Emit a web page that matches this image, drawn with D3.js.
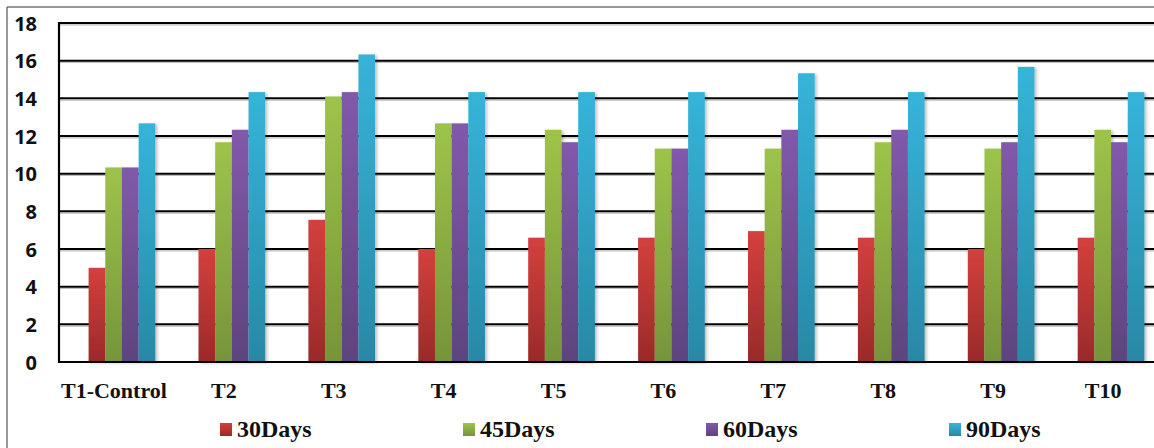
<!DOCTYPE html>
<html>
<head>
<meta charset="utf-8">
<script src="https://cdn.jsdelivr.net/npm/d3@7"></script>
<style>
  html, body { margin: 0; padding: 0; background: #fff; }
  svg { display: block; }
</style>
</head>
<body>
<svg id="chart" width="1154" height="448"></svg>
<script>
// Treatments on the category axis
const categories = ["T1-Control", "T2", "T3", "T4", "T5", "T6", "T7", "T8", "T9", "T10"];
// Sampling days (series)
const seriesNames = ["30Days", "45Days", "60Days", "90Days"];
// Values per series, one per treatment
const days30 = [5.0, 6.0, 7.55, 6.0, 6.6, 6.6, 6.95, 6.6, 6.0, 6.6];
const days45 = [10.33, 11.67, 14.1, 12.67, 12.33, 11.33, 11.33, 11.67, 11.33, 12.33];
const days60 = [10.33, 12.33, 14.33, 12.67, 11.67, 11.33, 12.33, 12.33, 11.67, 11.67];
const days90 = [12.67, 14.33, 16.33, 14.33, 14.33, 14.33, 15.33, 14.33, 15.67, 14.33];
const seriesValues = [days30, days45, days60, days90];
// Y axis ticks
const yTicks = [0, 2, 4, 6, 8, 10, 12, 14, 16, 18];

// Gradient stops (top, bottom) for each series
const seriesColors = [
  ["#d4403d", "#9a2a29"],
  ["#9dc44a", "#76943a"],
  ["#8259ab", "#5d447e"],
  ["#36b4da", "#2888a5"]
];

const svg = d3.select("#chart");
const W = 1154, H = 448;
const plot = { left: 59, right: 1158, top: 23, bottom: 362 };

const defs = svg.append("defs");
seriesColors.forEach((c, i) => {
  const g = defs.append("linearGradient")
    .attr("id", "grad" + i)
    .attr("x1", 0).attr("y1", 0).attr("x2", 0).attr("y2", 1);
  g.append("stop").attr("offset", "0%").attr("stop-color", c[0]);
  g.append("stop").attr("offset", "100%").attr("stop-color", c[1]);
});
const shadow = defs.append("filter").attr("id", "barShadow")
  .attr("x", "-20%").attr("y", "-5%").attr("width", "150%").attr("height", "115%");
shadow.append("feDropShadow")
  .attr("dx", 2).attr("dy", 1).attr("stdDeviation", 1.6)
  .attr("flood-color", "#000").attr("flood-opacity", 0.25);

// Outer frame (top and left edges visible)
svg.append("line").attr("x1", 7).attr("y1", 7).attr("x2", W).attr("y2", 7)
  .attr("stroke", "#333").attr("stroke-width", 1.2);
svg.append("line").attr("x1", 7).attr("y1", 7).attr("x2", 7).attr("y2", H)
  .attr("stroke", "#555").attr("stroke-width", 1.2);

const x = d3.scaleBand().domain(categories).range([plot.left, plot.right]).padding(0);
const y = d3.scaleLinear().domain([0, 18]).range([plot.bottom, plot.top]);

const groupWidth = x.bandwidth() * 0.607;
const groupShift = 8;
const xs = d3.scaleBand().domain(d3.range(seriesNames.length)).range([0, groupWidth]).padding(0);

// Gridlines with a soft shadow below
const grid = svg.append("g");
grid.selectAll("line.sh").data(yTicks.filter(t => t > 0)).join("line")
  .attr("class", "sh")
  .attr("x1", plot.left).attr("x2", W)
  .attr("y1", d => y(d) + 1.8).attr("y2", d => y(d) + 1.8)
  .attr("stroke", "#bdbdbd").attr("stroke-width", 1.2);
grid.selectAll("line.gl").data(yTicks.filter(t => t > 0)).join("line")
  .attr("class", "gl")
  .attr("x1", plot.left).attr("x2", W)
  .attr("y1", d => y(d)).attr("y2", d => y(d))
  .attr("stroke", "#000").attr("stroke-width", 2);

// Bars
const groups = svg.append("g").selectAll("g").data(categories).join("g")
  .attr("transform", d => `translate(${x(d) + (x.bandwidth() - groupWidth) / 2 + groupShift},0)`);
groups.each(function (cat, ci) {
  d3.select(this).selectAll("rect")
    .data(seriesValues.map((vals, si) => ({ si, v: vals[ci] })))
    .join("rect")
    .attr("x", d => xs(d.si))
    .attr("width", xs.bandwidth())
    .attr("y", d => y(d.v))
    .attr("height", d => y(0) - y(d.v))
    .attr("fill", d => `url(#grad${d.si})`)
    .attr("filter", "url(#barShadow)");
});

// Axis lines
svg.append("line").attr("x1", plot.left).attr("x2", W)
  .attr("y1", y(0)).attr("y2", y(0)).attr("stroke", "#000").attr("stroke-width", 2.2);
svg.append("line").attr("x1", plot.left).attr("x2", plot.left)
  .attr("y1", plot.top - 1).attr("y2", y(0) + 1).attr("stroke", "#000").attr("stroke-width", 2.2);

// Y axis labels
const yAxis = d3.axisLeft(y).tickValues(yTicks).tickSize(0).tickPadding(0);
const yg = svg.append("g").attr("transform", "translate(37,0)").call(yAxis);
yg.select(".domain").remove();
yg.selectAll("text")
  .attr("font-family", "'Open Sans', Lato, sans-serif")
  .attr("font-weight", "bold")
  .attr("font-size", 20)
  .attr("fill", "#111")
  .attr("dy", "0.36em");

// X axis labels
const xAxis = d3.axisBottom(x).tickSize(0).tickPadding(0);
const xg = svg.append("g").attr("transform", `translate(0,${y(0)})`).call(xAxis);
xg.select(".domain").remove();
xg.selectAll("text")
  .attr("font-family", "'Liberation Serif', 'Times New Roman', serif")
  .attr("font-weight", "bold")
  .attr("font-size", 22)
  .attr("fill", "#111")
  .attr("dy", null)
  .attr("y", 36);

// Legend
const legendX = d3.scalePoint().domain(seriesNames).range([220, 949]);
const legend = svg.append("g").selectAll("g").data(seriesNames).join("g")
  .attr("transform", d => `translate(${legendX(d)},423)`);
legend.append("rect")
  .attr("width", 12).attr("height", 13)
  .attr("fill", (d, i) => `url(#grad${i})`);
legend.append("text")
  .attr("x", 17).attr("y", 13.5)
  .attr("font-family", "'Liberation Serif', 'Times New Roman', serif")
  .attr("font-weight", "bold")
  .attr("font-size", 24)
  .attr("fill", "#111")
  .text(d => d);
</script>
</body>
</html>
